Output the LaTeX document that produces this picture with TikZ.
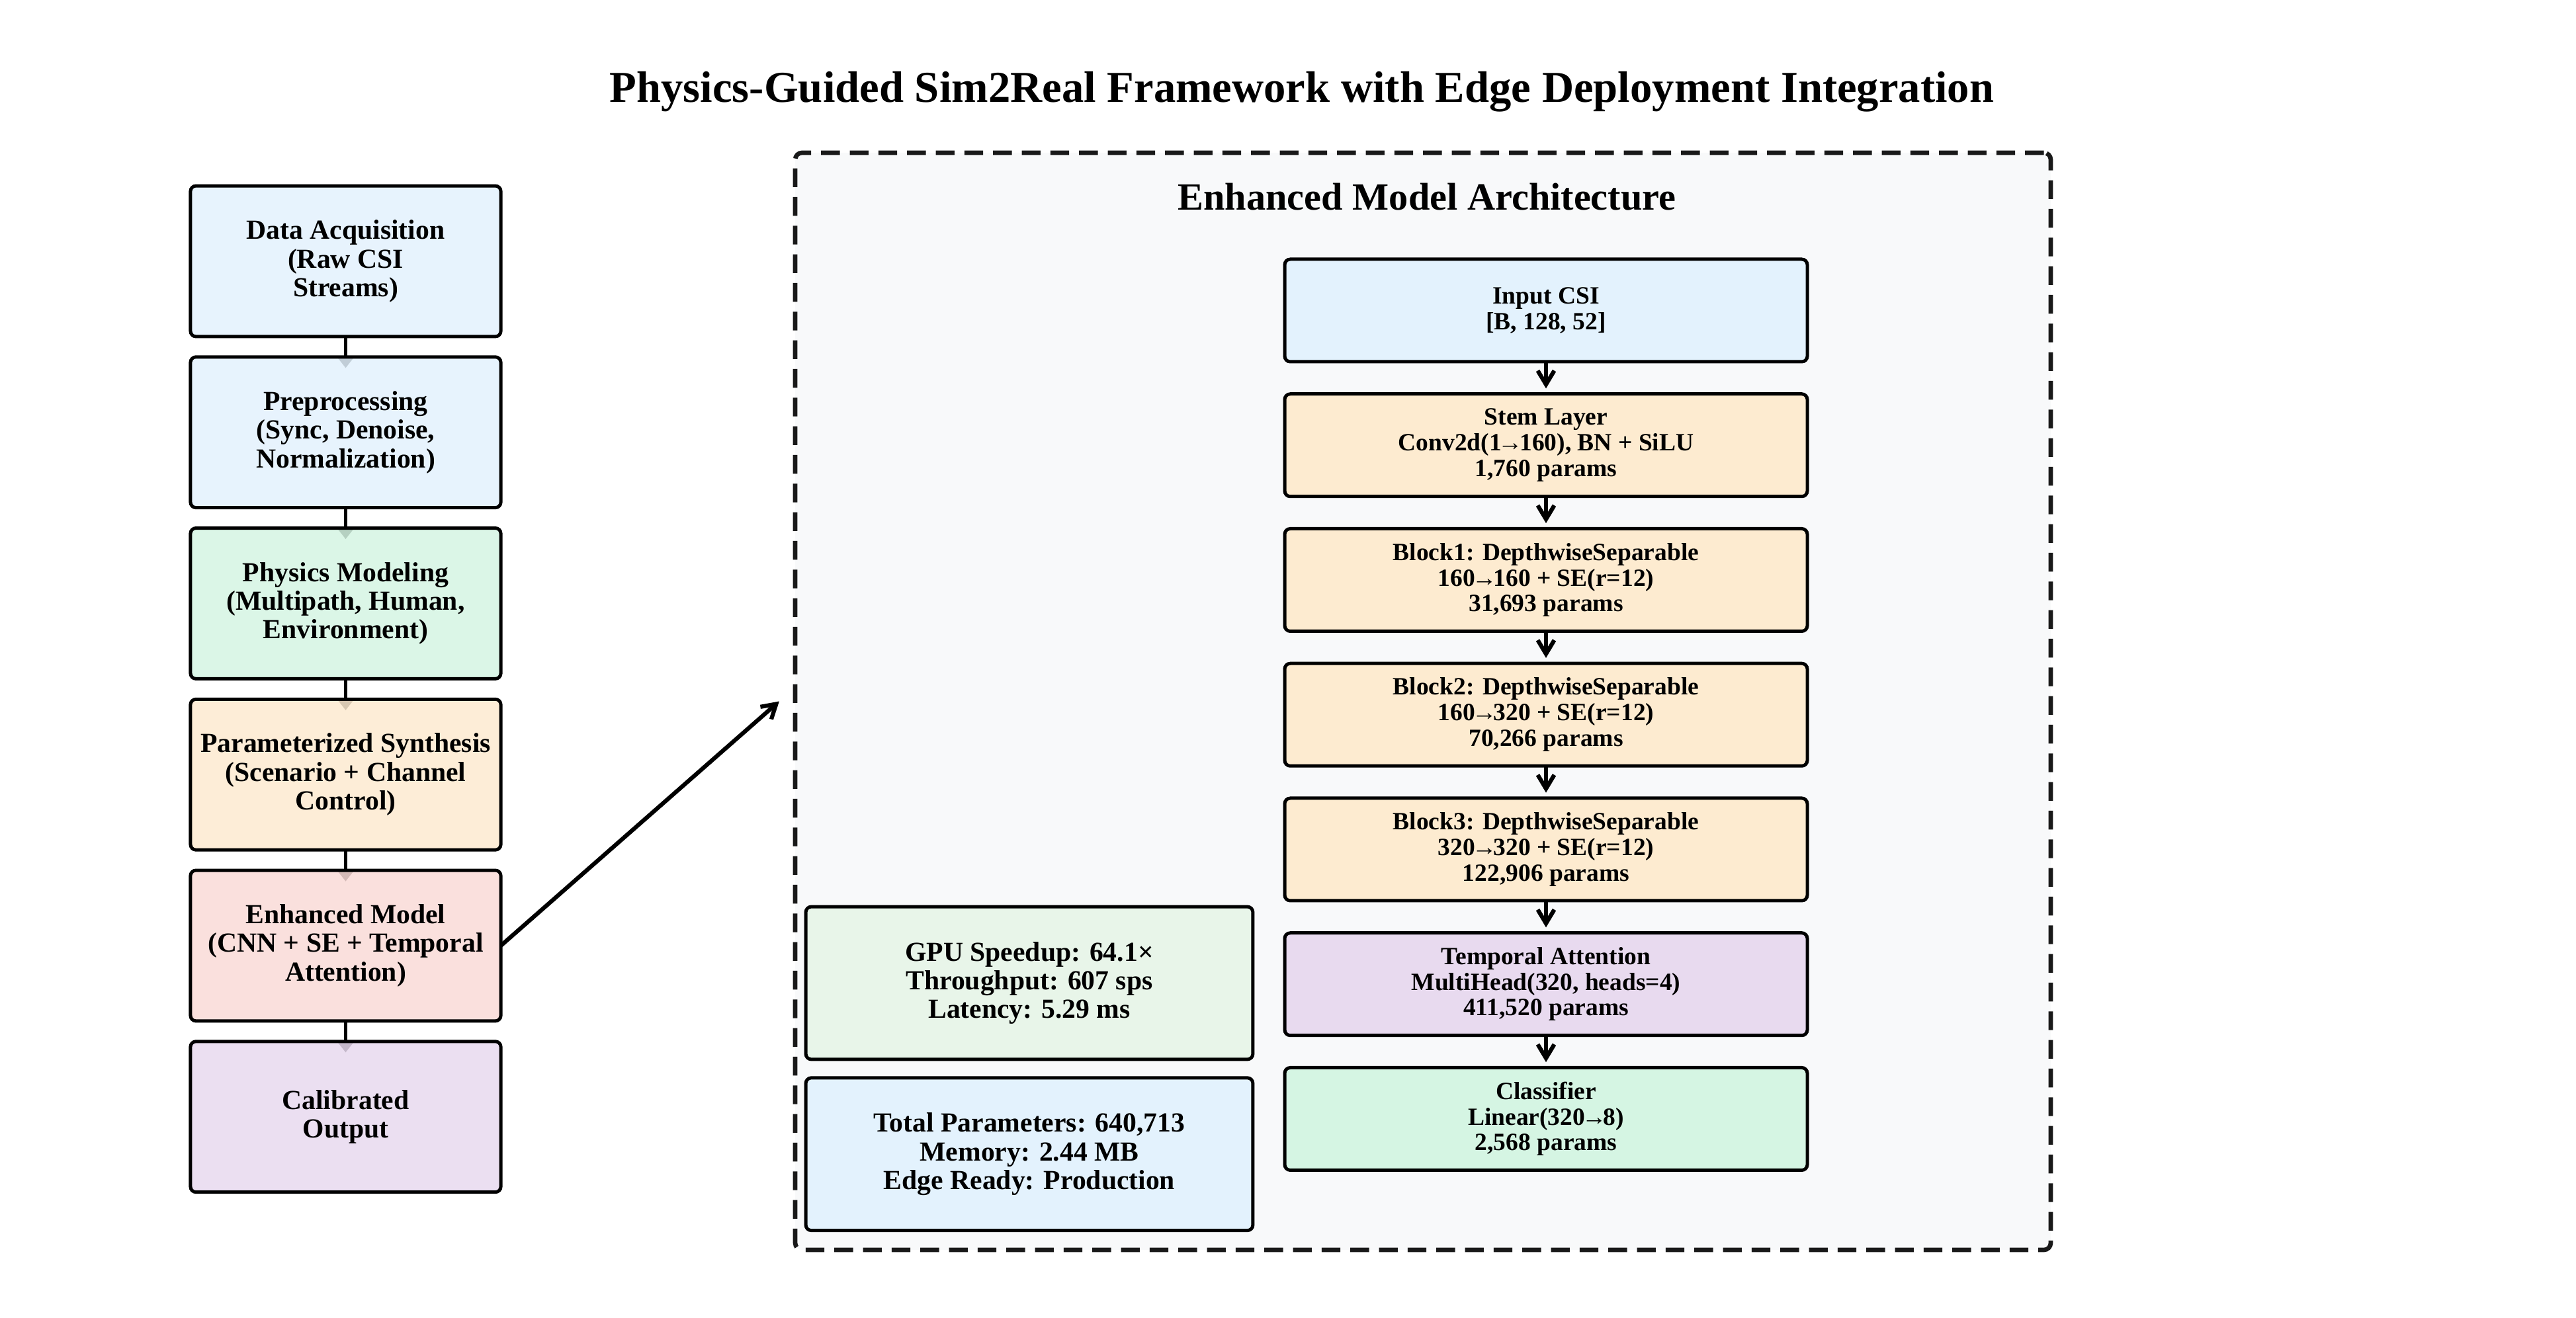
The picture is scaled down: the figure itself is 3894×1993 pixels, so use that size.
\documentclass[tikz,border=0pt]{standalone}
\usepackage{fontspec}
\setmainfont{Liberation Serif}
\usetikzlibrary{arrows.meta,positioning}

\definecolor{boxblue}{HTML}{E3F2FD}
\definecolor{boxgreen}{HTML}{D5F5E3}
\definecolor{boxorange}{HTML}{FDEBD0}
\definecolor{boxpink}{HTML}{FADBD8}
\definecolor{boxpurple}{HTML}{E8DAEF}
\definecolor{boxmint}{HTML}{E8F5E9}
\definecolor{panelgray}{HTML}{F8F9FA}

\newcommand{\tightarrow}{\kern-1.2pt→\kern-1.2pt}

\pgfdeclarelayer{bg}
\pgfsetlayers{bg,main}

\begin{document}
\begin{tikzpicture}[
  x=0.24pt, y=-0.24pt,
  stage/.style={draw=black, line width=1.2pt, rounded corners=2pt, minimum width=112.6pt, minimum height=54.7pt,
    align=center, inner sep=0pt, outer sep=0pt, font=\fontsize{10}{10.4}\selectfont\bfseries,
    fill opacity=0.85, text opacity=1, draw opacity=1},
  layerbox/.style={draw=black, line width=1.2pt, rounded corners=2pt, minimum width=189.6pt, minimum height=37.2pt,
    align=center, inner sep=0pt, outer sep=0pt, font=\fontsize{9}{9.3}\selectfont\bfseries},
  statbox/.style={draw=black, line width=1.2pt, rounded corners=2pt, minimum width=162.2pt, minimum height=55.4pt,
    align=center, inner sep=0pt, outer sep=0pt, font=\fontsize{10}{10.4}\selectfont\bfseries},
  flow/.style={-{Triangle[length=4pt,width=6pt]}, line width=1.3pt, shorten >=-4pt},
  line/.style={-{Straight Barb[length=5pt,width=6pt]}, line width=1.5pt}
]
\begin{pgfonlayer}{bg}
\path[use as bounding box, fill=white] (0,0) rectangle (3894,1993);
\end{pgfonlayer}

% title
\node[font=\fontsize{16}{19}\selectfont\bfseries] (title) at (1968,139) {Physics-Guided Sim2Real Framework with Edge Deployment Integration};

% pipeline column
\node[stage, fill=boxblue] (acq) at (522.5,395) {Data Acquisition\\(Raw CSI\\Streams)};
\node[stage, fill=boxblue, below=7.4pt of acq] (prep) {Preprocessing\\(Sync, Denoise,\\Normalization)};
\node[stage, fill=boxgreen, below=7.4pt of prep] (phys) {Physics Modeling\\(Multipath, Human,\\Environment)};
\node[stage, fill=boxorange, below=7.4pt of phys] (synth) {Parameterized Synthesis\\(Scenario + Channel\\Control)};
\node[stage, fill=boxpink, below=7.4pt of synth] (model) {Enhanced Model\\(CNN + SE + Temporal\\Attention)};
\node[stage, fill=boxpurple, below=7.4pt of model] (calib) {Calibrated\\Output};

\begin{pgfonlayer}{bg}
\draw[flow] (acq) -- (prep);
\draw[flow] (prep) -- (phys);
\draw[flow] (phys) -- (synth);
\draw[flow] (synth) -- (model);
\draw[flow] (model) -- (calib);
\end{pgfonlayer}

% architecture panel
\node[draw=black!90, fill=panelgray, line width=1.6pt, dash pattern=on 6.8pt off 3.6pt, rounded corners=2.5pt,
  minimum width=455.5pt, minimum height=398.2pt, inner sep=0pt] (panel) at (2151,1060.5) {};
\node[font=\fontsize{14}{17}\selectfont\bfseries] (paneltitle) at (2157,298) {Enhanced Model Architecture};

\node[layerbox, fill=boxblue] (incsi) at (2337,469.5) {Input CSI\\{[B, 128, 52]}};
\node[layerbox, fill=boxorange, below=11.7pt of incsi] (stem) {Stem Layer\\Conv2d(1\tightarrow160), BN + SiLU\\1,760 params};
\node[layerbox, fill=boxorange, below=11.7pt of stem] (blk1) {Block1: DepthwiseSeparable\\160\tightarrow160 + SE(r=12)\\31,693 params};
\node[layerbox, fill=boxorange, below=11.7pt of blk1] (blk2) {Block2: DepthwiseSeparable\\160\tightarrow320 + SE(r=12)\\70,266 params};
\node[layerbox, fill=boxorange, below=11.7pt of blk2] (blk3) {Block3: DepthwiseSeparable\\320\tightarrow320 + SE(r=12)\\122,906 params};
\node[layerbox, fill=boxpurple, below=11.7pt of blk3] (attn) {Temporal Attention\\MultiHead(320, heads=4)\\411,520 params};
\node[layerbox, fill=boxgreen, below=11.7pt of attn] (cls) {Classifier\\Linear(320\tightarrow8)\\2,568 params};

\draw[line, shorten >=2pt] (incsi) -- (stem);
\draw[line, shorten >=2pt] (stem) -- (blk1);
\draw[line, shorten >=2pt] (blk1) -- (blk2);
\draw[line, shorten >=2pt] (blk2) -- (blk3);
\draw[line, shorten >=2pt] (blk3) -- (attn);
\draw[line, shorten >=2pt] (attn) -- (cls);

% deployment stats
\node[statbox, fill=boxmint] (gpu) at (1556,1486.5) {GPU Speedup: 64.1×\\Throughput: 607 sps\\Latency: 5.29 ms};
\node[statbox, fill=boxblue, below=6.7pt of gpu] (total) {Total Parameters: 640,713\\Memory: 2.44 MB\\Edge Ready: Production};

% link into the panel
\draw[line] (model.east) -- ([xshift=-5pt]panel.west);
\end{tikzpicture}
\end{document}
